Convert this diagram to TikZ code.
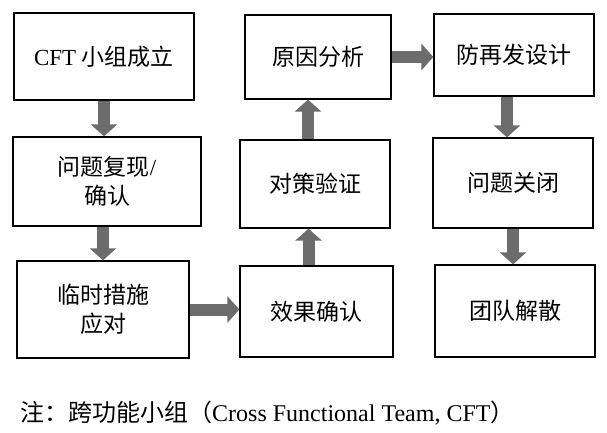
\documentclass[tikz,border=0pt]{standalone}
\usepackage{fontspec}
\setmainfont{Liberation Serif}
\newfontfamily\cjk{Noto Sans CJK SC}
\usepackage{tikz}
\definecolor{flowgray}{HTML}{6C6C6C}
\usetikzlibrary{arrows.meta}

\begin{document}
\begin{tikzpicture}[x=1pt, y=-1pt,
    stage/.style={draw, line width=1.3pt, align=center, inner sep=0pt,
        font=\fontsize{23}{29}\selectfont},
    flow/.style={draw=flowgray, line width=12pt, -{Triangle[length=12pt, width=26pt]}}]
\useasboundingbox (0,0) rectangle (607,432);
% Left column
\node[stage, minimum width=180pt, minimum height=87pt] (cft) at (104,56.5) {CFT {\cjk 小组成立}};
\node[stage, minimum width=188pt, minimum height=89pt] (fx) at (107,181.5) {{\cjk 问题复现}/\\{\cjk 确认}};
\node[stage, minimum width=172pt, minimum height=97pt] (lin) at (103,309.5) {{\cjk 临时措施}\\{\cjk 应对}};
% Middle column
\node[stage, minimum width=146pt, minimum height=84pt] (yy) at (318,57) {\cjk 原因分析};
\node[stage, minimum width=150pt, minimum height=88pt] (dc) at (315,184) {\cjk 对策验证};
\node[stage, minimum width=153pt, minimum height=91pt] (xg) at (316.5,311.5) {\cjk 效果确认};
% Right column
\node[stage, minimum width=160pt, minimum height=82pt] (fz) at (514,55) {\cjk 防再发设计};
\node[stage, minimum width=160pt, minimum height=90pt] (gb) at (513,183) {\cjk 问题关闭};
\node[stage, minimum width=160pt, minimum height=92pt] (js) at (515,311) {\cjk 团队解散};
% Block arrows
\draw[flow] (cft.south) -- (cft.south |- fx.north);
\draw[flow] (fx.south -| lin.north) -- (lin.north);
\draw[flow] (lin.east) -- (lin.east -| xg.west);
\draw[flow] ([xshift=-8pt]xg.north) -- ([xshift=-8pt]xg.north |- dc.south);
\draw[flow] ([xshift=-7pt]dc.north) -- ([xshift=-7pt]dc.north |- yy.south);
\draw[flow] (yy.east) -- (yy.east -| fz.west);
\draw[flow] ([xshift=-7pt]fz.south) -- ([xshift=-7pt]fz.south |- gb.north);
\draw[flow] (gb.south) -- (gb.south |- js.north);
% Note
\node[anchor=west, inner sep=0pt, font=\fontsize{24}{28}\selectfont] (note) at (20,413)
    {{\cjk 注：跨功能小组（}Cross Functional Team, CFT{\cjk ）}};
\end{tikzpicture}
\end{document}
